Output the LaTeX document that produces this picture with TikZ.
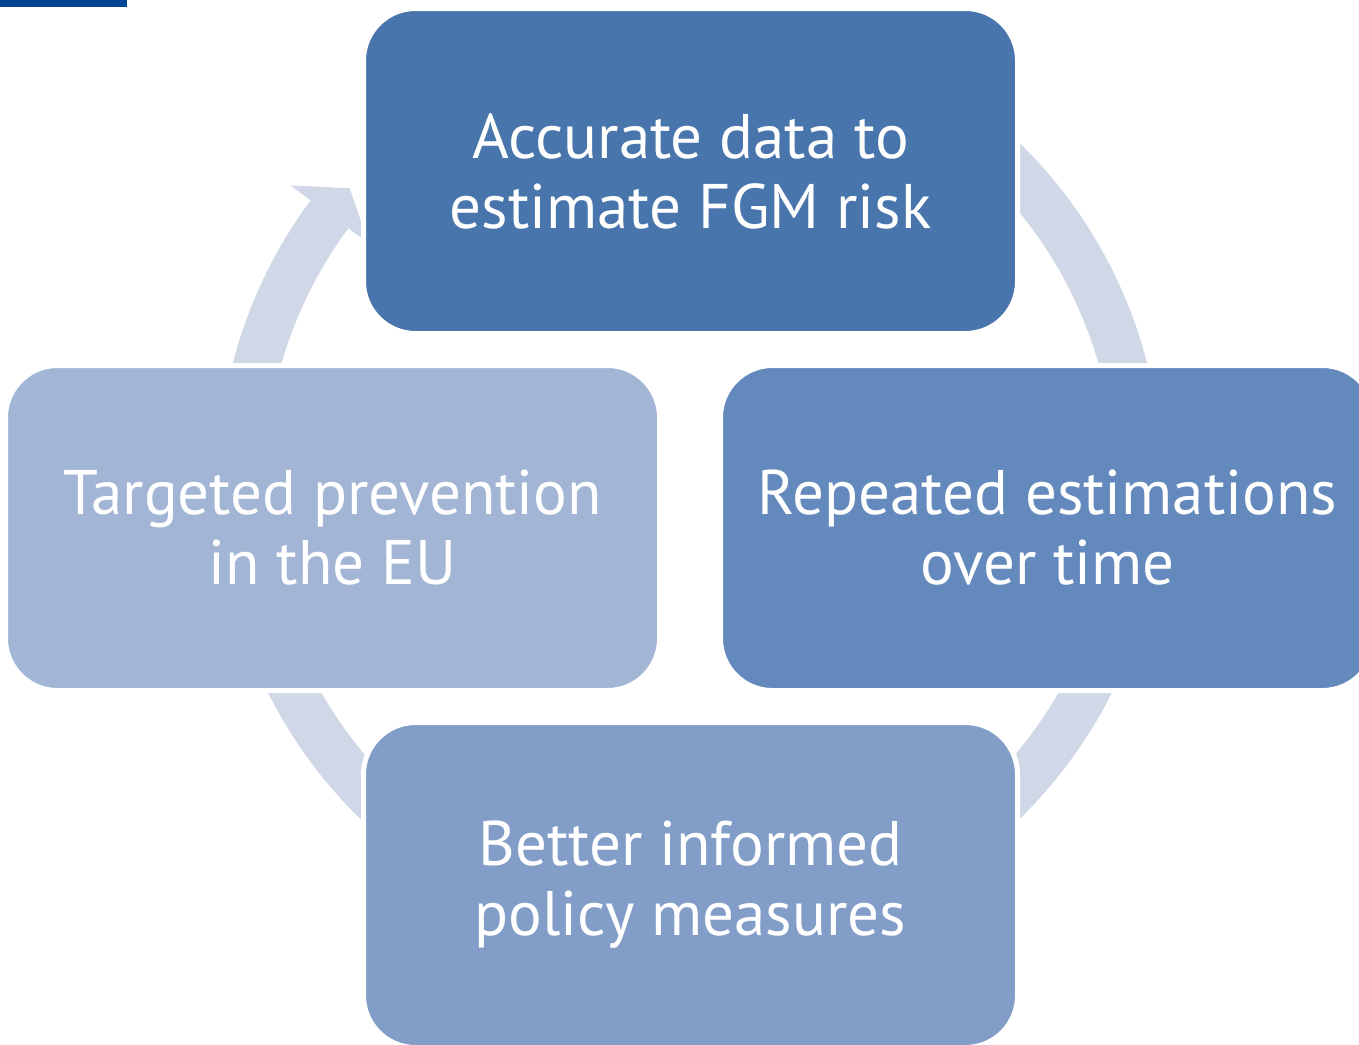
\documentclass[tikz,border=0pt]{standalone}
\usepackage{fontspec}
\setmainfont{PT Sans}
\definecolor{boxA}{RGB}{72,117,171}
\definecolor{boxB}{RGB}{100,137,188}
\definecolor{boxC}{RGB}{130,157,199}
\definecolor{boxD}{RGB}{163,181,213}
\definecolor{ringc}{RGB}{208,216,232}
\definecolor{navybar}{RGB}{0,68,150}
\begin{document}
\begin{tikzpicture}[x=1pt,y=1pt,
  cyclebox/.style={rectangle, rounded corners=52pt, draw=white, line width=5pt,
    minimum width=654pt, minimum height=325pt, inner sep=0pt,
    text=white, align=center, font=\fontsize{63}{70}\selectfont},
  ringband/.style={draw=ringc, line width=47pt}]
\useasboundingbox (0,0) rectangle (1359,-1044);
\clip (0,0) rectangle (1359,-1044);
\fill[navybar] (0,0) rectangle (127,-7);
\coordinate (c) at (690,-481);
% ring
\draw[ringband] ([shift={(143.5:448.5pt)}]c) arc[start angle=143.5, end angle=450, radius=448.5pt];
\fill[ringc] ([shift={(143.5:497pt)}]c) -- ([shift={(139.3:449pt)}]c) -- ([shift={(143.5:400pt)}]c) -- cycle;
% boxes
\node[cyclebox, fill=boxA] (top) at (690.5,-171) {Accurate data to\\estimate FGM risk};
\node[cyclebox, fill=boxB] (right) at (1047.5,-528) {Repeated estimations\\over time};
\node[cyclebox, fill=boxC] (bottom) at (690.5,-885) {Better informed\\policy measures};
\node[cyclebox, fill=boxD] (left) at (332.5,-528) {Targeted prevention\\in the EU};
\end{tikzpicture}
\end{document}
